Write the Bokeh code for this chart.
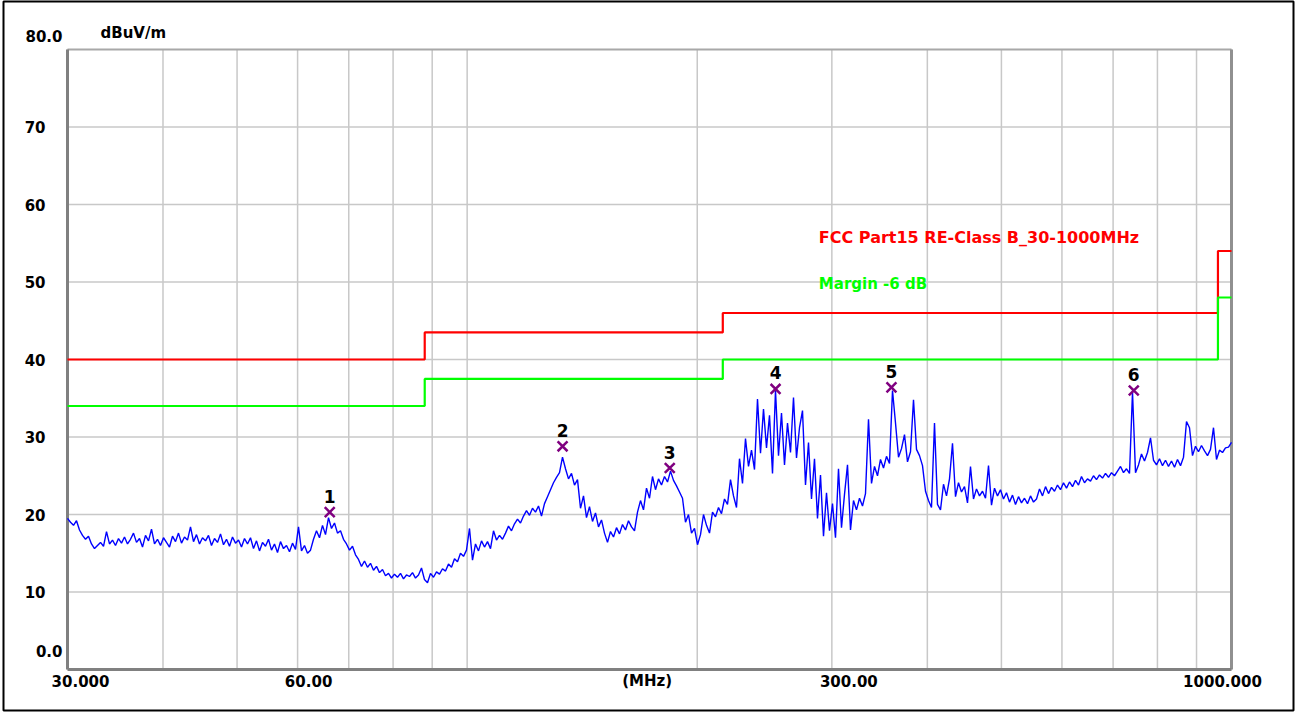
import math
import numpy as np
from bokeh.plotting import figure
from bokeh.models import ColumnDataSource, Range1d
from bokeh.core.properties import value
from bokeh.embed import file_html
from bokeh.resources import INLINE

# ---------------- data ----------------
FREQ_START, FREQ_STOP = 30.0, 1000.0
Y_MIN, Y_MAX = 0.0, 80.0

# measured trace (dBuV/m), sweep points evenly spaced on log frequency axis
levels = [
    19.5, 19.0, 18.6, 19.2, 18.0, 17.3, 16.8, 17.2, 16.2, 15.6, 16.0,
    16.4, 15.9, 17.8, 16.2, 16.7, 16.0, 16.9, 16.3, 17.1, 16.2,
    16.8, 17.6, 16.4, 16.9, 15.8, 17.3, 16.6, 18.1, 16.2, 16.8,
    16.0, 17.0, 16.4, 15.8, 17.2, 16.5, 17.6, 16.3, 17.1, 16.7,
    18.4, 16.5, 17.4, 16.2, 17.0, 16.6, 17.3, 16.0, 16.9, 16.4,
    17.5, 16.1, 16.8, 15.9, 17.1, 16.3, 16.7, 15.8, 16.9, 16.2,
    17.0, 15.6, 16.6, 15.3, 16.4, 15.9, 16.8, 15.4, 16.2, 15.1,
    16.5, 15.6, 16.0, 15.2, 16.3, 15.5,
    18.4, 15.3, 16.0, 15.0,
    15.4, 16.8, 17.9, 17.0, 18.6, 17.4, 19.6, 18.2, 18.9, 17.6,
    17.9, 16.8, 16.2, 15.4, 15.9, 14.8, 14.2, 13.3, 14.0, 13.2,
    13.7, 12.8, 13.3, 12.5, 12.9, 12.1, 12.4, 11.8, 12.3, 11.9,
    12.4, 11.7, 12.2, 12.0, 12.5, 11.8, 12.2, 13.1, 11.6, 11.2,
    12.4, 11.9, 12.6, 12.3, 13.0, 12.7, 13.6, 13.2, 14.3, 13.9,
    15.0, 14.6, 15.4, 18.2, 14.1, 16.2, 15.3, 16.6, 15.8, 16.5,
    15.6, 17.9, 16.7, 17.3, 16.8, 17.6, 18.5, 17.9, 18.8, 19.4,
    18.9, 19.8, 20.5, 19.9, 20.8, 20.3, 21.1, 19.8, 21.4, 22.3,
    23.2, 24.1, 24.8, 25.4, 27.4, 25.9, 24.6, 25.3, 23.8, 24.5,
    20.8, 22.4, 19.6, 21.0, 19.1, 20.2, 18.4, 19.3, 17.6, 16.4,
    17.8, 17.1, 18.3, 17.5, 18.7, 18.0, 19.2, 18.4, 17.9, 20.3,
    21.8, 20.6, 23.4, 22.1, 24.9, 23.2, 24.6, 23.8, 24.9, 24.2,
    25.6, 24.4, 23.7, 22.9, 22.1, 19.0, 20.0, 17.6, 18.2, 16.1,
    17.4, 20.0, 18.6, 17.6, 20.3, 19.7, 20.9, 20.1, 22.0, 21.3,
    24.5, 22.4, 20.9, 27.2, 24.0, 29.8, 26.2, 28.3, 25.8, 34.9,
    27.9, 33.6, 28.6, 32.8, 25.3, 36.0, 27.6, 33.1, 26.4, 31.8,
    28.0, 35.1, 27.3, 31.2, 33.4, 23.8, 29.3, 22.0, 27.2, 19.5,
    25.1, 17.2, 22.8, 17.9, 21.4, 17.0, 25.9, 18.3, 22.6, 26.4,
    18.0, 21.8, 20.6, 22.1, 21.1, 22.7, 32.3, 24.0, 26.2, 25.0,
    27.1, 26.0, 27.5, 26.6, 36.0, 31.8, 27.4, 28.5, 30.3, 26.8,
    28.1, 34.8, 28.4, 27.6, 26.3, 23.0, 21.8, 20.9, 31.8, 21.3,
    20.6, 23.9, 22.4, 24.6, 29.2, 22.3, 24.1, 22.9, 23.6, 21.5,
    26.2, 22.0, 23.3, 22.4, 23.0, 22.1, 26.3, 21.2, 23.4, 22.4,
    23.2, 22.0, 22.8, 21.6, 22.5, 21.3, 22.3, 21.5, 22.1, 21.4,
    22.4, 21.6, 22.0, 23.3, 22.4, 23.6, 22.7, 23.5, 23.0, 23.8,
    23.2, 24.1, 23.4, 24.2, 23.6, 24.4, 23.8, 24.9, 24.1, 24.6,
    24.3, 25.0, 24.5, 25.1, 24.7, 25.3, 24.8, 25.4, 25.0, 25.6,
    26.2, 25.4, 25.9, 25.3, 35.8, 25.4, 26.4, 27.8, 26.9, 28.0,
    29.9, 27.0, 26.4, 27.2, 26.3, 27.0, 26.2, 26.9, 26.1, 27.1,
    26.3, 27.4, 32.0, 31.2, 27.6, 28.8, 28.1, 28.9, 28.2, 27.6,
    28.4, 31.2, 27.1, 28.3, 28.0, 28.6, 28.7, 29.3,
]
freqs = np.geomspace(FREQ_START, FREQ_STOP, len(levels))

# FCC Part 15 class B limit (step edges) and margin line
limit_freq = [30, 88, 216, 960, 1000]
limit_level = [40.0, 43.5, 46.0, 54.0, 54.0]
margin_db = -6.0
margin_level = [v + margin_db for v in limit_level]

# peak markers
marker_freq = [66.1, 133.3, 184.1, 253.2, 359.0, 745.0]
marker_level = [20.3, 28.8, 26.0, 36.2, 36.4, 36.0]
marker_label = ["1", "2", "3", "4", "5", "6"]

# axes / grid
x_grid_ticks = [30, 40, 50, 60, 70, 80, 90, 100, 200, 300, 400, 500, 600, 700, 800, 900, 1000]
y_grid_ticks = [10, 20, 30, 40, 50, 60, 70]
y_tick_labels = ["10", "20", "30", "40", "50", "60", "70"]
x_label_values = [30, 60, 300, 1000]
x_label_texts = ["30.000", "60.00", "300.00", "1000.000"]
y_end_values = [80, 0]
y_end_texts = ["80.0", "0.0"]
unit_x = "(MHz)"
unit_x_pos = 172
unit_y = "dBuV/m"
limit_name = "FCC Part15 RE-Class B_30-1000MHz"
margin_name = "Margin -6 dB"
legend_pos = (288.5, 55.7, 49.8)

# ---------------- layout / styles ----------------
FONT = value("DejaVu Sans")
W, H = 1296, 712
BOX_L, BOX_R, BOX_T, BOX_B = 3, 1293, 1, 710        # outer black box (px)
PLOT_L, PLOT_R, PLOT_T, PLOT_B = 67, 1231, 49, 669  # plot area (px)
ppd = (PLOT_R - PLOT_L) / math.log10(FREQ_STOP / FREQ_START)
x_start = 10 ** (math.log10(FREQ_START) - (PLOT_L - BOX_L) / ppd)
x_end = 10 ** (math.log10(FREQ_STOP) + (BOX_R - PLOT_R) / ppd)
ppu = (PLOT_B - PLOT_T) / (Y_MAX - Y_MIN)
y_start = Y_MIN - (BOX_B - PLOT_B) / ppu
y_end = Y_MAX + (PLOT_T - BOX_T) / ppu

x_label_nudge = [13, 11, 17, -9]
y_end_nudge = [-14, -19]

p = figure(
    width=W, height=H,
    min_border_left=BOX_L, min_border_right=W - BOX_R,
    min_border_top=BOX_T, min_border_bottom=H - BOX_B,
    x_axis_type="log", x_range=Range1d(x_start, x_end), y_range=Range1d(y_start, y_end),
    output_backend="svg", toolbar_location=None,
)
p.xaxis.visible = False
p.yaxis.visible = False
p.grid.visible = False
p.background_fill_color = "white"
p.border_fill_color = "white"
p.outline_line_color = "black"
p.outline_line_width = 2

# grid lines inside plot area
nx, ny = len(x_grid_ticks), len(y_grid_ticks)
p.segment(x0=x_grid_ticks, y0=[Y_MIN] * nx, x1=x_grid_ticks, y1=[Y_MAX] * nx,
          line_color="#c8c8c8", line_width=1.5)
p.segment(x0=[FREQ_START] * ny, y0=y_grid_ticks, x1=[FREQ_STOP] * ny, y1=y_grid_ticks,
          line_color="#c8c8c8", line_width=1.5)

# plot-area border
p.segment(x0=[FREQ_START], y0=[Y_MAX], x1=[FREQ_STOP], y1=[Y_MAX], line_color="#a8a8a8", line_width=2)
p.segment(x0=[FREQ_STOP], y0=[Y_MIN], x1=[FREQ_STOP], y1=[Y_MAX], line_color="#909090", line_width=3)
p.segment(x0=[FREQ_START], y0=[Y_MIN], x1=[FREQ_STOP], y1=[Y_MIN], line_color="#808080", line_width=3)
p.segment(x0=[FREQ_START], y0=[Y_MIN], x1=[FREQ_START], y1=[Y_MAX], line_color="#808080", line_width=3)

# limit & margin lines
p.step(limit_freq, limit_level, mode="after", line_color="#ff0000", line_width=2.2)
p.step(limit_freq, margin_level, mode="after", line_color="#00ff00", line_width=2.2)

# trace
p.line(freqs, levels, line_color="#0000ff", line_width=1.4)

# markers
msrc = ColumnDataSource(dict(f=marker_freq, v=marker_level, t=marker_label))
p.scatter("f", "v", source=msrc, marker="x", size=14, line_color="#800080", line_width=2.5)
p.text("f", "v", text="t", source=msrc, y_offset=-16, text_align="center",
       text_baseline="middle", text_font=FONT, text_font_style="bold",
       text_font_size="17px", text_color="black")

common = dict(text_font=FONT, text_font_style="bold", text_baseline="middle")

# legend texts
p.text(x=[legend_pos[0]], y=[legend_pos[1]], text=[limit_name], text_color="#ff0000",
       text_font_size="16px", text_align="left", **common)
p.text(x=[legend_pos[0]], y=[legend_pos[2]], text=[margin_name], text_color="#00ff00",
       text_font_size="15px", text_align="left", **common)

# y tick labels
p.text(x=[FREQ_START] * ny, y=y_grid_ticks, text=y_tick_labels, x_offset=-22,
       text_align="right", text_font_size="15px", text_color="black", **common)
for v, t, dy in zip(y_end_values, y_end_texts, y_end_nudge):
    p.text(x=[FREQ_START], y=[v], text=[t], x_offset=-5, y_offset=dy,
           text_align="right", text_font_size="15px", text_color="black", **common)
p.text(x=[FREQ_START], y=[Y_MAX], text=[unit_y], x_offset=33, y_offset=-17,
       text_align="left", text_font_size="15px", text_color="black", **common)

# x tick labels
for v, t, dx in zip(x_label_values, x_label_texts, x_label_nudge):
    p.text(x=[v], y=[Y_MIN], text=[t], x_offset=dx, y_offset=11,
           text_align="center", text_font_size="15px", text_color="black", **common)
p.text(x=[unit_x_pos], y=[Y_MIN], text=[unit_x], y_offset=11,
       text_align="center", text_font_size="15px", text_color="black", **common)

open("out.html", "w").write(file_html(p, INLINE))
